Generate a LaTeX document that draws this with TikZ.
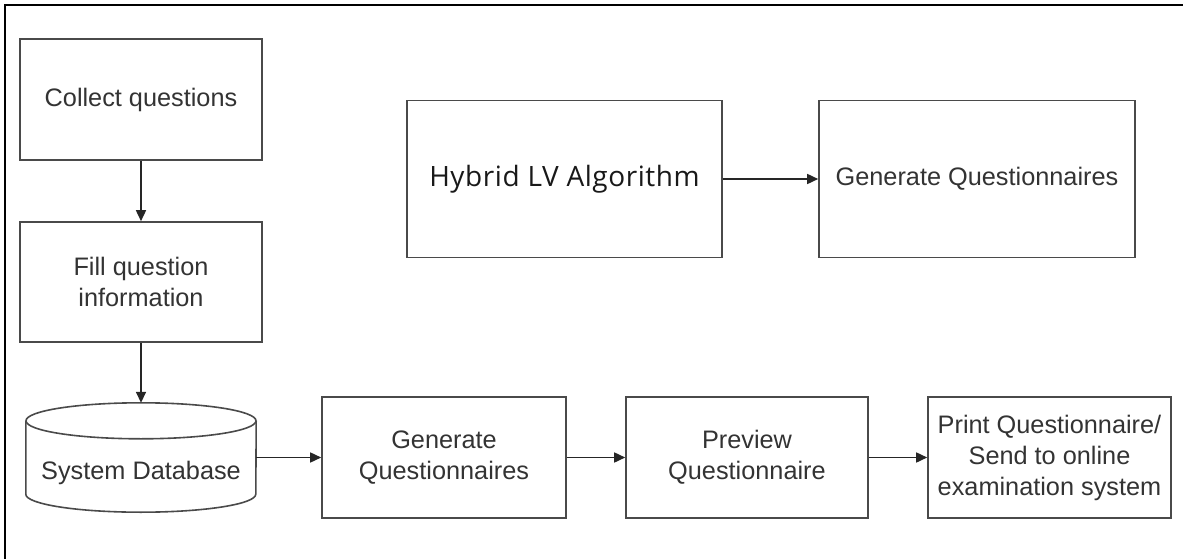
\documentclass[tikz,border=0pt]{standalone}
\usepackage{fontspec}
\setmainfont{Liberation Sans}
\newfontfamily\hybridfont[LetterSpace=2]{Open Sans}
\usetikzlibrary{arrows.meta}
\definecolor{edgegray}{HTML}{4A4A4A}
\definecolor{txtgray}{HTML}{333333}
\tikzset{
  x=1pt, y=1pt,
  procbox/.style={draw=edgegray, line width=1.6pt, rectangle, align=center,
    text=txtgray, font=\fontsize{25.3}{31}\selectfont, inner sep=0pt},
  flow/.style={draw=black!85, line width=1.6pt,
    -{Triangle[length=11pt,width=10pt]}},
  dbline/.style={draw=edgegray, line width=1.6pt},
}
\begin{document}
\begin{tikzpicture}
\useasboundingbox (0,0) rectangle (1183,558);
% outer frame (only the top and left edges lie inside the page)
\draw[line width=2.2pt, black] (5,-20) -- (5,553) -- (1200,553);

% left column
\node[procbox, minimum width=242pt, minimum height=121pt] (collect) at (141,458.5) {Collect questions};
\node[procbox, minimum width=242pt, minimum height=120pt] (fill) at (141,276) {Fill question\\information};

% database cylinder
\node[minimum width=230pt, minimum height=109pt, inner sep=0pt] (db) at (141,100.5) {};
\draw[dbline] ([yshift=-18pt]db.north west) -- ([yshift=18pt]db.south west)
  arc[start angle=180, end angle=360, x radius=115pt, y radius=18pt]
  -- ([yshift=-18pt]db.north east);
\draw[dbline] ([yshift=-18pt]db.north) ellipse[x radius=115pt, y radius=18pt];
\node[text=txtgray, font=\fontsize{25.3}{31}\selectfont] (dblabel) at (141,85) {System Database};

% bottom row
\node[procbox, minimum width=244pt, minimum height=121pt] (genb) at (444,100.5) {Generate\\Questionnaires};
\node[procbox, minimum width=242pt, minimum height=121pt] (preview) at (747,100.5) {Preview\\Questionnaire};
\node[procbox, minimum width=243pt, minimum height=121pt] (print) at (1049.5,100.5) {Print Questionnaire/\\Send to online\\examination system};

% top row
\node[procbox, minimum width=315pt, minimum height=157pt, text=black!90,
  font=\hybridfont\fontsize{28}{32}\selectfont] (hybrid) at (564.5,379) {Hybrid LV Algorithm};
\node[procbox, minimum width=316pt, minimum height=157pt] (gent) at (977,379) {Generate Questionnaires};

% connectors
\draw[flow] (collect.south) -- (fill.north);
\draw[flow] (fill.south) -- (db.north);
\draw[flow] (db.east) -- (genb.west);
\draw[flow] (genb.east) -- (preview.west);
\draw[flow] (preview.east) -- (print.west);
\draw[flow] (hybrid.east) -- (gent.west);
\end{tikzpicture}
\end{document}
